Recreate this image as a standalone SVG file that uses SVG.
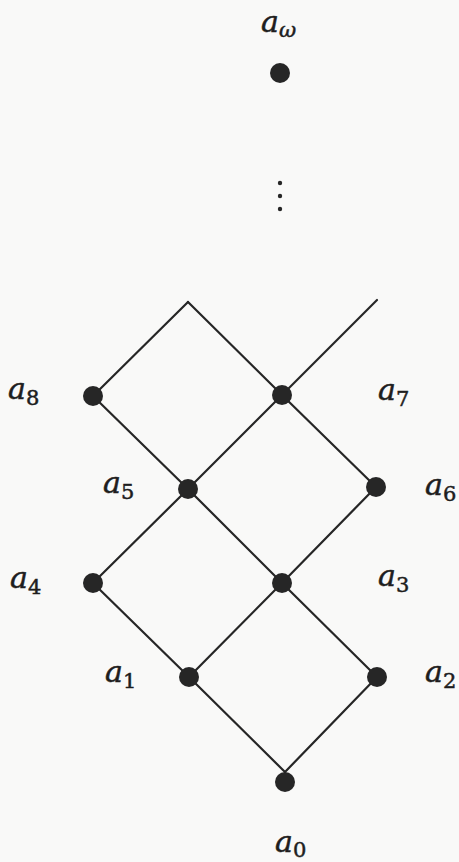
<svg xmlns="http://www.w3.org/2000/svg" width="459" height="862" viewBox="0 0 459 862">
  <style>
    .edge { stroke: #262626; stroke-width: 2.2; fill: none; stroke-linecap: round; }
    .dot { fill: #262626; }
    .lbl { font-family: "DejaVu Serif", "Liberation Serif", serif; font-style: italic; font-size: 30px; fill: #1e1e1e; stroke: #1e1e1e; stroke-width: 0.5; }
    .sub { font-style: normal; font-size: 21px; }
    .subi { font-style: italic; font-size: 21px; }
  </style>
  <rect x="0" y="0" width="459" height="862" fill="#f9f9f8"/>
  <g id="connectors">
    <line class="edge" x1="188" y1="302" x2="93" y2="396"/>
    <line class="edge" x1="188" y1="302" x2="282" y2="395"/>
    <line class="edge" x1="282" y1="395" x2="377" y2="300"/>
    <line class="edge" x1="93" y1="396" x2="188" y2="489"/>
    <line class="edge" x1="282" y1="395" x2="188" y2="489"/>
    <line class="edge" x1="282" y1="395" x2="376" y2="487"/>
    <line class="edge" x1="188" y1="489" x2="93" y2="583"/>
    <line class="edge" x1="188" y1="489" x2="282" y2="583"/>
    <line class="edge" x1="376" y1="487" x2="282" y2="583"/>
    <line class="edge" x1="93" y1="583" x2="189" y2="677"/>
    <line class="edge" x1="282" y1="583" x2="189" y2="677"/>
    <line class="edge" x1="282" y1="583" x2="377" y2="677"/>
    <line class="edge" x1="189" y1="677" x2="285" y2="772"/>
    <line class="edge" x1="377" y1="677" x2="285" y2="772"/>
  </g>
  <g id="a_omega">
    <circle class="dot" cx="280" cy="73" r="10"/>
    <text class="lbl" x="261" y="32">a<tspan class="subi" dy="5">ω</tspan></text>
  </g>
  <g id="ellipsis">
    <circle class="dot" cx="280" cy="183" r="2.2"/>
    <circle class="dot" cx="280" cy="196" r="2.2"/>
    <circle class="dot" cx="280" cy="209" r="2.2"/>
  </g>
  <g id="a8">
    <circle class="dot" cx="93" cy="396" r="10"/>
    <text class="lbl" x="8" y="399">a<tspan class="sub" dy="6">8</tspan></text>
  </g>
  <g id="a7">
    <circle class="dot" cx="282" cy="395" r="10"/>
    <text class="lbl" x="378" y="400">a<tspan class="sub" dy="6">7</tspan></text>
  </g>
  <g id="a5">
    <circle class="dot" cx="188" cy="489" r="10"/>
    <text class="lbl" x="103" y="493">a<tspan class="sub" dy="6">5</tspan></text>
  </g>
  <g id="a6">
    <circle class="dot" cx="376" cy="487" r="10"/>
    <text class="lbl" x="425" y="495">a<tspan class="sub" dy="6">6</tspan></text>
  </g>
  <g id="a4">
    <circle class="dot" cx="93" cy="583" r="10"/>
    <text class="lbl" x="10" y="588">a<tspan class="sub" dy="6">4</tspan></text>
  </g>
  <g id="a3">
    <circle class="dot" cx="282" cy="583" r="10"/>
    <text class="lbl" x="378" y="586">a<tspan class="sub" dy="6">3</tspan></text>
  </g>
  <g id="a1">
    <circle class="dot" cx="189" cy="677" r="10"/>
    <text class="lbl" x="105" y="682">a<tspan class="sub" dy="6">1</tspan></text>
  </g>
  <g id="a2">
    <circle class="dot" cx="377" cy="677" r="10"/>
    <text class="lbl" x="425" y="682">a<tspan class="sub" dy="6">2</tspan></text>
  </g>
  <g id="a0">
    <circle class="dot" cx="285" cy="782" r="10"/>
    <text class="lbl" x="275" y="852">a<tspan class="sub" dy="5">0</tspan></text>
  </g>
</svg>
